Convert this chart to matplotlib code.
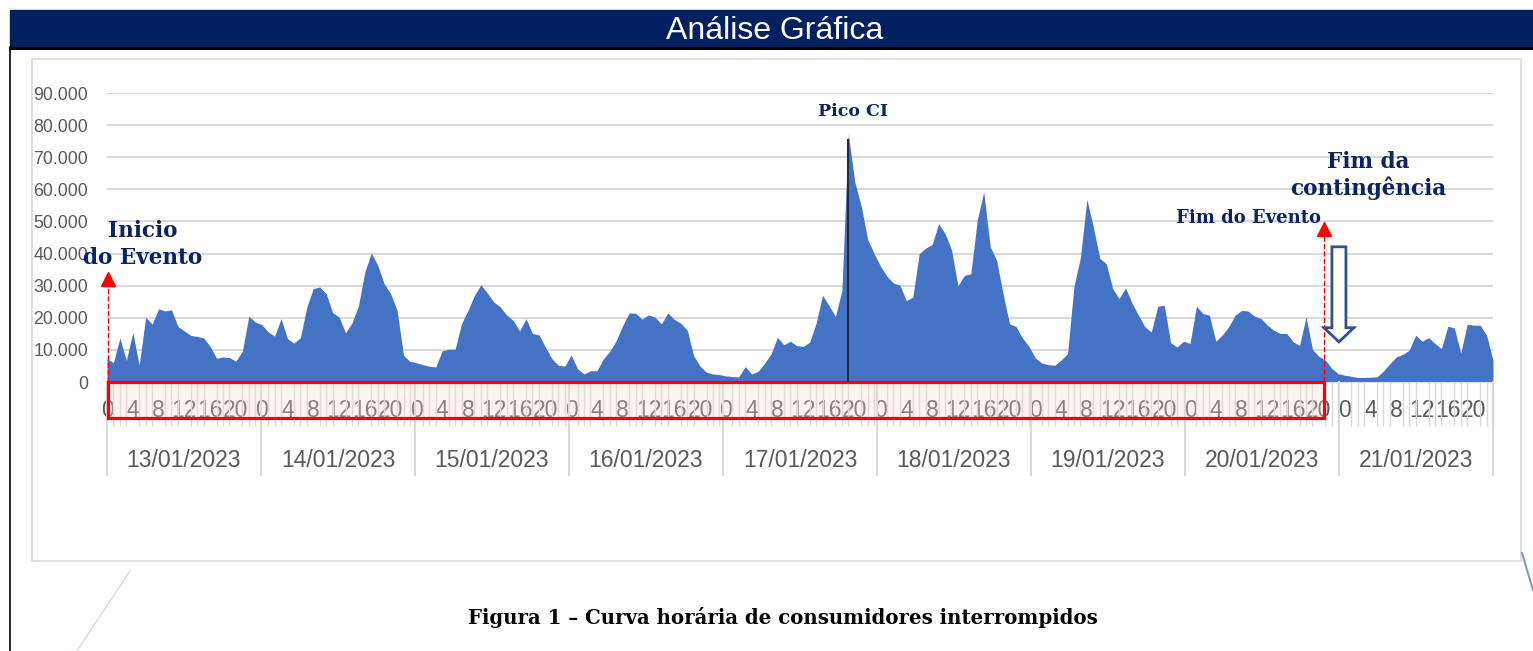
import numpy as np
import matplotlib.pyplot as plt
from matplotlib.patches import Rectangle, FancyArrow
from matplotlib.lines import Line2D
from matplotlib.ticker import FuncFormatter
import matplotlib.transforms as mtransforms

# Consumidores interrompidos, hora a hora (0..23) por dia
d13 = [7300, 6000, 13700, 6700, 15400, 5200, 20200, 18000, 22800, 22100, 22500, 17300,
       15900, 14500, 14200, 13700, 11100, 7400, 7800, 7600, 6500, 9600, 20500, 18700]
d14 = [17900, 15600, 14300, 19700, 13500, 12100, 13800, 23400, 29100, 29600, 27500, 21600,
       20200, 15300, 18400, 23700, 34300, 40200, 36300, 30600, 27500, 22300, 8300, 6400]
d15 = [6000, 5400, 4900, 4700, 9700, 10200, 10200, 18200, 22300, 27000, 30300, 27700,
       24900, 23400, 20800, 19200, 15900, 19700, 15100, 14700, 10900, 7300, 5200, 4900]
d16 = [8400, 4100, 2500, 3500, 3500, 7200, 9600, 12900, 17600, 21500, 21400, 19600,
       20900, 20200, 18100, 21500, 19500, 18300, 16200, 8200, 4900, 3000, 2500, 2300]
d17 = [1900, 1700, 1600, 4800, 2500, 3300, 5800, 8700, 13900, 11600, 12700, 11300,
       11100, 12400, 18300, 27000, 23800, 20400, 28500, 77200, 62300, 54700, 44400, 40000]
d18 = [36000, 32900, 30800, 30100, 25400, 26400, 40000, 41700, 42800, 49300, 46200, 41200,
       29900, 33200, 33700, 50400, 59200, 42200, 37900, 27500, 18100, 17300, 13700, 11100]
d19 = [7500, 5900, 5400, 5200, 6800, 8800, 29800, 38800, 56900, 48300, 38500, 36900,
       29100, 26000, 29300, 24600, 20800, 17200, 15600, 23600, 23900, 12200, 10900, 12700]
d20 = [12000, 23600, 21300, 20800, 12700, 14600, 17200, 20800, 22300, 22100, 20500, 19800,
       17700, 16100, 15100, 15100, 12500, 11400, 20300, 10100, 8000, 6800, 4200, 2600]
d21 = [2100, 1800, 1400, 1400, 1500, 1600, 3400, 5700, 7800, 8600, 9900, 14600,
       12700, 13800, 12000, 10400, 17400, 16800, 9000, 18000, 17700, 17700, 14600, 6800]

days = ["13/01/2023", "14/01/2023", "15/01/2023", "16/01/2023", "17/01/2023",
        "18/01/2023", "19/01/2023", "20/01/2023", "21/01/2023"]
hour_labels = [0, 4, 8, 12, 16, 20]

vals = np.array(d13 + d14 + d15 + d16 + d17 + d18 + d19 + d20 + d21)
x = np.arange(len(vals))
n = len(vals) - 1

W, H = 1533, 651
fig = plt.figure(figsize=(W / 100, H / 100), dpi=100)
fx = lambda p: p / W
fy = lambda p: 1 - p / H

navy = '#0d2260'
gray = '#595959'
grid = '#d9d9d9'

# cabecalho
fig.add_artist(Rectangle((fx(10), fy(47)), 1 - fx(10), 37 / H, transform=fig.transFigure,
                         color='#002060', zorder=0))
fig.text(fx(775), fy(31), "Análise Gráfica", color='white', fontsize=23,
         family='Liberation Sans', ha='center', va='center')
fig.add_artist(Line2D([fx(10), 1], [fy(48), fy(48)], color='black', lw=2.2))
fig.add_artist(Line2D([fx(10), fx(10)], [fy(47), 0], color='black', lw=1.2))
# moldura do grafico
fig.add_artist(Rectangle((fx(32), fy(561)), fx(1521) - fx(32), (561 - 59) / H,
                         transform=fig.transFigure, fill=False, ec=grid, lw=1.2))
fig.add_artist(Line2D([fx(130), fx(77)], [fy(571), 0], color='#d5dcea', lw=1))
fig.add_artist(Line2D([fx(1522), fx(1533)], [fy(553), fy(590)], color='#7f9cc0', lw=1.5))

ax = fig.add_axes([fx(107), fy(382), (1493 - 107) / W, (382 - 93) / H])
ax.set_xlim(0, n)
ax.set_ylim(0, 90000)
ax.fill_between(x, vals, color='#4472c4', lw=0, zorder=2)

ax.set_yticks(range(0, 90001, 10000))
ax.yaxis.set_major_formatter(FuncFormatter(lambda v, p: f"{int(v):,}".replace(',', '.')))
ax.grid(axis='y', color=grid, lw=1.5)
ax.set_axisbelow(True)
for s in ['top', 'right', 'left']:
    ax.spines[s].set_visible(False)
ax.spines['bottom'].set_color(grid)
ax.tick_params(axis='y', length=0, pad=13.5, labelsize=12.8, labelcolor=gray)
for t in ax.get_yticklabels():
    t.set_family('Liberation Sans')

pos = [i for i in x if (i % 24) in hour_labels]
ax.set_xticks(pos, [str(i % 24) for i in pos])
ax.set_xticks(x, minor=True)
ax.tick_params(axis='x', which='major', length=0, pad=12, labelsize=16.5, labelcolor=gray)
ax.tick_params(axis='x', which='minor', length=32, width=1, color=grid)
for t in ax.get_xticklabels():
    t.set_family('Liberation Sans')

trans = mtransforms.blended_transform_factory(ax.transData, ax.transAxes)
span = n / len(days)
for k in range(len(days) + 1):
    ax.plot([k * span, k * span], [0, -0.322], transform=trans, color=grid, lw=1.5, clip_on=False)
for k, d in enumerate(days):
    ax.text((k + 0.5) * span, -0.27, d, transform=trans, ha='center', va='center',
            fontsize=16.5, color=gray, family='Liberation Sans')

# periodo do evento
ev_ini, ev_fim = 0.2, 188.8
ax.add_patch(Rectangle((ev_ini, -0.125), ev_fim - ev_ini, 0.125, transform=trans,
                       fc=(0.98, 0.85, 0.82, 0.3), ec='red', lw=2.3, clip_on=False, zorder=3))
ax.plot([ev_ini, ev_ini], [0, 30200], color='red', ls='--', lw=1, zorder=4, clip_on=False)
ax.plot([ev_ini], [32100], marker='^', color='red', ms=10, zorder=4, clip_on=False)
ax.plot([ev_fim, ev_fim], [-11300, 45800], color='red', ls='--', lw=1, zorder=4, clip_on=False)
ax.plot([ev_fim], [47600], marker='^', color='red', ms=10, zorder=4, clip_on=False)

# pico
pk = int(np.argmax(vals))
ax.plot([pk, pk], [0, vals[pk] * 0.975], color='#1f2a44', lw=1.5, zorder=3)

serif = dict(family='DejaVu Serif', weight='bold', color=navy, ha='center', va='center')
ax.text(5.6, 47100, "Inicio", fontsize=15.5, **serif)
ax.text(5.6, 38600, "do Evento", fontsize=15.5, **serif)
ax.text(115.7, 84200, "Pico CI", fontsize=12.5, **serif)
ax.text(177.1, 51100, "Fim do Evento", fontsize=13, **serif)
ax.text(195.6, 68500, "Fim da", fontsize=15.5, **serif)
ax.text(195.6, 60400, "contingência", fontsize=15.5, **serif)

ax.add_patch(FancyArrow(191.1, 42100, 0, -29600, width=2.17, head_width=4.65,
                        head_length=4400, length_includes_head=True,
                        fc='white', ec='#2f528f', lw=2, zorder=5))

fig.text(fx(783), fy(617), "Figura 1 – Curva horária de consumidores interrompidos",
         family='DejaVu Serif', weight='bold', fontsize=14.2, ha='center', va='center')

fig.savefig('out.png', dpi=100)
